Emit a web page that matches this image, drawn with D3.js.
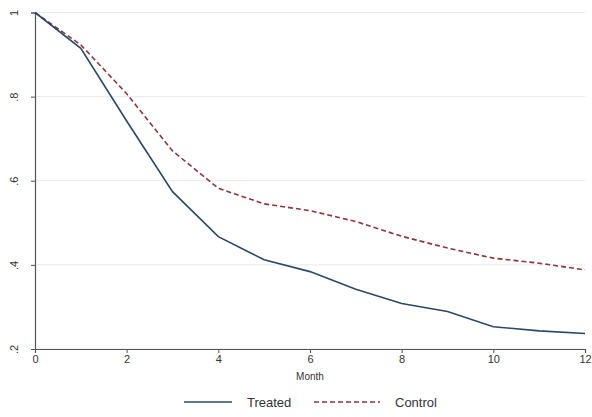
<!DOCTYPE html>
<html>
<head>
<meta charset="utf-8">
<script src="https://cdn.jsdelivr.net/npm/d3@7"></script>
<style>
  body { margin: 0; background: #fff; }
  text { font-family: "Liberation Sans", Arial, sans-serif; fill: #333; }
</style>
</head>
<body>
<div id="chart"></div>
<script>
const months = [0, 1, 2, 3, 4, 5, 6, 7, 8, 9, 10, 11, 12];
const treated = [1, 0.915, 0.742, 0.574, 0.467, 0.412, 0.384, 0.342, 0.308, 0.289, 0.253, 0.243, 0.237];
const control = [1, 0.923, 0.807, 0.671, 0.582, 0.545, 0.529, 0.503, 0.468, 0.440, 0.416, 0.404, 0.388];
const xTicks = [0, 2, 4, 6, 8, 10, 12];
const yTicks = [0.2, 0.4, 0.6, 0.8, 1];
const yTickLabels = ['.2', '.4', '.6', '.8', '1'];

const width = 592;
const height = 417;
const margin = { top: 12.5, right: 7, bottom: 68, left: 35 };

const svg = d3.select('#chart').append('svg')
    .attr('width', width)
    .attr('height', height);

const x = d3.scaleLinear().domain([0, 12]).range([margin.left, width - margin.right]);
const y = d3.scaleLinear().domain([0.2, 1]).range([height - margin.bottom, margin.top]);

// gridlines
svg.append('g')
    .selectAll('line')
    .data(yTicks)
    .enter()
    .append('line')
    .attr('x1', x(0))
    .attr('x2', x(12))
    .attr('y1', d => y(d))
    .attr('y2', d => y(d))
    .attr('stroke', '#e6e9ee')
    .attr('stroke-width', 1);

// x axis
const xAxis = svg.append('g')
    .attr('transform', `translate(0,${y(0.2)})`)
    .call(d3.axisBottom(x).tickValues(xTicks).tickSize(4).tickPadding(2).tickFormat(d3.format('d')));
xAxis.select('.domain').attr('stroke', '#555').attr('stroke-width', 1.2);
xAxis.selectAll('.tick line').attr('stroke', '#555');
xAxis.selectAll('text').style('font-size', '11px').style('fill', '#333');

// y axis
const yAxis = svg.append('g')
    .attr('transform', `translate(${x(0)},0)`)
    .call(d3.axisLeft(y).tickValues(yTicks).tickSize(4).tickFormat((d, i) => yTickLabels[i]));
yAxis.select('.domain').attr('stroke', '#555').attr('stroke-width', 1.2);
yAxis.selectAll('.tick line').attr('stroke', '#555');
yAxis.selectAll('text')
    .style('font-size', '11px')
    .style('fill', '#333')
    .attr('x', 0)
    .attr('dy', 0)
    .attr('text-anchor', 'middle')
    .attr('transform', 'translate(-17,0) rotate(-90)');

// axis title
svg.append('text')
    .attr('x', (x(0) + x(12)) / 2)
    .attr('y', 380)
    .attr('text-anchor', 'middle')
    .style('font-size', '10px')
    .text('Month');

const line = d3.line()
    .x((d, i) => x(months[i]))
    .y(d => y(d));

svg.append('path')
    .datum(control)
    .attr('fill', 'none')
    .attr('stroke', '#90353b')
    .attr('stroke-width', 1.6)
    .attr('stroke-dasharray', '5,3')
    .attr('d', line);

svg.append('path')
    .datum(treated)
    .attr('fill', 'none')
    .attr('stroke', '#2b4866')
    .attr('stroke-width', 1.6)
    .attr('d', line);

// legend
const legendY = 402;
const legend = svg.append('g');
legend.append('line')
    .attr('x1', 184).attr('x2', 232)
    .attr('y1', legendY).attr('y2', legendY)
    .attr('stroke', '#2b4866').attr('stroke-width', 1.6);
legend.append('text')
    .attr('x', 247).attr('y', legendY + 4.5)
    .style('font-size', '13px')
    .text('Treated');
legend.append('line')
    .attr('x1', 314).attr('x2', 380)
    .attr('y1', legendY).attr('y2', legendY)
    .attr('stroke', '#90353b').attr('stroke-width', 1.4)
    .attr('stroke-dasharray', '5,3');
legend.append('text')
    .attr('x', 395).attr('y', legendY + 4.5)
    .style('font-size', '13px')
    .text('Control');
</script>
</body>
</html>
